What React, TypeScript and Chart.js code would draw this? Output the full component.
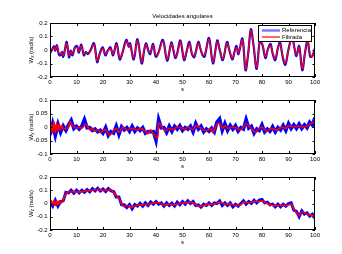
import React, { useEffect, useRef } from "react";
import { Chart, registerables } from "chart.js";

Chart.register(...registerables);

const TITLE = "Velocidades angulares";
const LABEL_REF = "Referencia";
const LABEL_FILT = "Filtrada";
const X_TICKS = [0, 10, 20, 30, 40, 50, 60, 70, 80, 90, 100];

// ---- Plot 1 (W_x) ----
const t1 = [0,0.8,1.5,2.0,2.6,3.3,3.9,4.5,5.0,5.6,
  6.3,7.2,7.8,8.5,9.3,10.2,10.9,11.8,12.8,13.5,
  14.3,15.2,16.6,17.8,18.8,19.9,20.9,21.8,22.8,23.8,
  25.1,26.3,27.4,28.8,29.7,30.2,31.6,33.0,34.6,35.6,
  36.3,37.1,37.8,38.9,39.9,40.8,42.6,44.2,45.8,46.5,
  47.3,48.0,49.2,50.6,51.5,52.6,53.5,54.4,55.0,56.0,
  56.7,57.5,58.3,60.0,61.5,63.1,64.0,65.2,66.8,67.6,
  68.8,69.6,70.4,71.1,72.6,73.8,74.8,75.8,76.8,78.0,
  79.2,80.2,81.3,82.2,83.2,84.0,85.0,86.0,86.8,87.8,
  88.8,90.0,91.3,92.3,93.0,94.0,95.2,96.2,97.2,98.2,
  99.0,100];
const filt1 = [-0.02,0.0,0.02,0.0,0.03,-0.02,-0.03,-0.02,-0.04,0.0,
  0.05,-0.04,-0.01,-0.03,0.01,0.02,-0.01,0.03,-0.03,-0.02,
  -0.02,-0.01,0.04,-0.08,-0.03,0.01,-0.03,-0.01,0.01,-0.03,
  0.04,-0.06,-0.02,0.065,0.03,0.04,-0.06,0.07,-0.09,0.01,
  0.04,-0.01,-0.02,0.035,-0.04,-0.03,0.065,-0.07,0.045,0.01,
  -0.05,-0.03,0.06,-0.065,-0.02,0.05,-0.02,-0.045,-0.02,0.05,
  0.02,-0.03,-0.04,0.08,-0.09,0.06,0.01,-0.065,0.05,0.0,
  -0.06,-0.02,0.02,-0.02,0.075,-0.14,-0.02,0.145,0.03,-0.13,
  0.06,0.04,-0.05,0.0,0.035,-0.02,-0.065,0.02,0.045,-0.04,
  -0.1,0.0,0.085,0.01,-0.035,0.02,-0.14,-0.02,0.06,-0.04,
  -0.05,0.01];
const ref1 = [-0.025,0.005,0.028,-0.005,0.035,-0.03,-0.04,-0.015,-0.05,0.0,
  0.06,-0.055,-0.005,-0.04,0.015,0.03,-0.02,0.04,-0.04,-0.015,
  -0.03,-0.005,0.05,-0.09,-0.025,0.02,-0.04,-0.005,0.02,-0.04,
  0.05,-0.07,-0.015,0.075,0.025,0.05,-0.07,0.08,-0.1,0.005,
  0.05,-0.005,-0.03,0.045,-0.05,-0.025,0.075,-0.08,0.055,0.005,
  -0.06,-0.025,0.07,-0.075,-0.015,0.06,-0.025,-0.055,-0.015,0.06,
  0.015,-0.035,-0.05,0.09,-0.1,0.07,0.005,-0.075,0.06,0.005,
  -0.07,-0.015,0.03,-0.03,0.085,-0.15,-0.025,0.155,0.035,-0.14,
  0.07,0.035,-0.06,0.005,0.045,-0.025,-0.075,0.015,0.055,-0.05,
  -0.11,0.005,0.095,0.01,-0.045,0.03,-0.15,-0.025,0.07,-0.05,
  -0.045,0.015];

// ---- Plot 2 (W_y) ----
const tRef = Array.from({ length: 101 }, (_, i) => i);
const ref2 = [-0.03,0.012,-0.032,0.01,-0.02,0.004,-0.013,0.008,0.025,-0.006,
  0.003,-0.008,0.003,0.028,-0.003,-0.002,-0.013,-0.007,-0.018,-0.012,
  -0.023,-0.002,-0.031,-0.017,-0.023,0.003,-0.028,0.001,-0.011,-0.002,
  -0.016,0.003,-0.016,-0.004,-0.013,-0.002,-0.023,-0.017,-0.018,-0.017,
  -0.05,0.028,-0.003,-0.002,-0.02,0.003,-0.016,0.003,-0.008,0.005,
  -0.013,-0.002,-0.008,0.003,-0.018,0.013,-0.008,0.003,-0.018,-0.007,
  -0.016,-0.004,-0.018,0.018,0.03,-0.013,0.013,-0.013,0.006,-0.008,
  0.005,-0.015,-0.002,-0.008,0.028,-0.004,0.003,-0.023,-0.007,-0.013,
  0.008,-0.018,-0.007,-0.016,0.001,-0.018,-0.002,-0.011,0.006,-0.013,
  0.013,-0.006,0.008,-0.006,0.011,-0.006,0.008,-0.003,0.018,0.007,
  0.035];
const t2 = [0,0.5,1,1.5,2,2.5,3,3.5,4,4.5,5,6,7,7.5,8.5,10,11,12,13.5,15,
  16,17,18,19,20,21,22.5,24,25,26,27.5,29,31,33,34,36,37,38,39,40.5,
  41,42,43.5,45,46.5,48,50,51,52,54,55,57,59,60.5,61.5,63,64,65,66,67,
  69,70.5,72,73,74,75.5,77.5,79,80,81,82,83.5,85,86,87.5,89,90,92,94,96,
  98,100];
const filt2 = [-0.02,0.01,-0.02,0.02,-0.02,0.015,-0.015,0.01,-0.01,0.005,-0.005,-0.005,0.0,0.02,0.005,-0.005,0.0,-0.005,0.01,-0.01,
  -0.005,-0.015,-0.01,-0.02,-0.015,-0.01,-0.03,-0.015,-0.005,-0.02,0.0,-0.01,-0.005,-0.012,-0.005,-0.015,-0.025,-0.01,-0.025,-0.04,
  0.015,0.005,-0.015,-0.005,-0.01,0.0,-0.005,-0.01,0.0,-0.01,0.005,-0.005,-0.015,-0.005,-0.02,0.01,0.015,-0.005,0.005,-0.005,
  0.0,-0.005,-0.01,0.0,0.012,0.0,-0.02,-0.005,0.0,-0.01,-0.015,-0.005,-0.01,-0.01,0.0,-0.005,0.005,0.0,0.003,0.0,
  0.01,0.022];

// ---- Plot 3 (W_z) ----
const ref3 = [0.01,-0.02,0.025,-0.02,0.015,0.02,0.085,0.08,0.1,0.078,
  0.1,0.08,0.1,0.085,0.105,0.088,0.112,0.095,0.115,0.095,
  0.11,0.09,0.112,0.095,0.09,0.05,0.05,-0.01,-0.01,-0.03,
  -0.008,-0.04,-0.008,-0.02,0.002,-0.02,0.005,-0.015,0.012,-0.005,
  0.015,-0.005,0.005,-0.02,0.005,-0.015,0.003,-0.02,0.01,-0.01,
  0.015,-0.005,0.02,0.0,0.015,-0.015,-0.01,-0.028,-0.005,-0.015,
  0.005,-0.015,0.005,0.0,0.02,-0.015,0.005,-0.015,0.005,-0.025,
  -0.005,-0.02,0.0,0.02,-0.005,0.015,0.0,0.025,0.005,0.025,
  0.03,0.005,0.01,-0.01,-0.005,-0.025,-0.005,-0.025,-0.005,-0.02,
  0.0,0.005,-0.05,-0.06,-0.1,-0.055,-0.08,-0.07,-0.095,-0.08,
  -0.11];
const t3 = [0,0.5,1,1.5,2,2.5,3,3.5,4,5,6,7,8,9,10,12,14,16,18,20,
  22,23,24,25,26,27,28,29,30,31,33,35,37,39,41,43,45,47,49,51,
  53,54,56,58,60,62,64,66,68,70,72,73,75,77,79,80,82,84,86,88,
  90,91,92,93,94,95,96,97,98,99,100];
const filt3 = [0.0,0.02,-0.01,0.02,-0.015,0.02,-0.01,0.02,0.0,0.03,0.07,0.09,0.085,0.09,0.085,0.09,0.095,0.1,0.105,0.1,
  0.1,0.105,0.08,0.06,0.04,0.0,-0.025,-0.015,-0.02,-0.03,-0.01,-0.01,-0.005,0.005,0.005,-0.01,-0.005,-0.01,0.0,0.005,
  0.01,0.005,-0.02,-0.015,-0.005,-0.005,0.01,-0.005,-0.005,-0.015,-0.01,0.01,0.005,0.015,0.015,0.02,0.0,-0.015,-0.015,-0.015,
  -0.01,-0.005,-0.04,-0.07,-0.09,-0.065,-0.07,-0.08,-0.085,-0.09,-0.1];

const FONT = "'Liberation Sans', Arial, Helvetica, sans-serif";

const framePlugin = {
  id: "frame",
  afterDraw(chart: any, _args: any, opts: any) {
    const { ctx, chartArea: a, scales } = chart;
    ctx.save();
    ctx.strokeStyle = "#000";
    ctx.lineWidth = 1;
    ctx.strokeRect(a.left + 0.5, a.top + 0.5, a.right - a.left - 1, a.bottom - a.top - 1);
    ctx.beginPath();
    const xs = scales.x;
    const ys = scales.y;
    xs.ticks.forEach((t: any) => {
      const px = Math.round(xs.getPixelForValue(t.value)) + 0.5;
      ctx.moveTo(px, a.bottom);
      ctx.lineTo(px, a.bottom - 3);
      ctx.moveTo(px, a.top);
      ctx.lineTo(px, a.top + 3);
    });
    ys.ticks.forEach((t: any) => {
      const py = Math.round(ys.getPixelForValue(t.value)) + 0.5;
      ctx.moveTo(a.left, py);
      ctx.lineTo(a.left + 2.5, py);
      ctx.moveTo(a.right, py);
      ctx.lineTo(a.right - 2.5, py);
    });
    ctx.stroke();

    // y-axis title with subscript
    const main = "W";
    const sub = opts.sub || "";
    const rest = " (rad/s)";
    const cx = opts.titleX || 31;
    const cy = (a.top + a.bottom) / 2;
    ctx.translate(cx, cy);
    ctx.rotate(-Math.PI / 2);
    ctx.fillStyle = "#000";
    ctx.textBaseline = "middle";
    ctx.textAlign = "left";
    const f1 = `6px ${FONT}`;
    const f2 = `4.5px ${FONT}`;
    ctx.font = f1;
    const w1 = ctx.measureText(main).width;
    const w3 = ctx.measureText(rest).width;
    ctx.font = f2;
    const w2 = ctx.measureText(sub).width;
    let x0 = -(w1 + w2 + w3) / 2;
    ctx.font = f1;
    ctx.fillText(main, x0, 0);
    x0 += w1;
    ctx.font = f2;
    ctx.fillText(sub, x0, 2);
    x0 += w2;
    ctx.font = f1;
    ctx.fillText(rest, x0, 0);
    ctx.setTransform(1, 0, 0, 1, 0, 0);

    if (opts.legend) {
      const bx = 258.5, by = 25.5, bw = 53, bh = 16;
      ctx.fillStyle = "#fff";
      ctx.fillRect(bx, by, bw, bh);
      ctx.strokeStyle = "#000";
      ctx.lineWidth = 1;
      ctx.strokeRect(bx, by, bw, bh);
      const rows = [30.5, 37];
      const colors = opts.legendColors || [];
      const widths = [2.5, 1.2];
      chart.data.datasets.forEach((ds: any, i: number) => {
        const y = rows[i];
        ctx.strokeStyle = colors[i] || ds.borderColor;
        ctx.lineWidth = widths[i];
        ctx.beginPath();
        ctx.moveTo(262, y);
        ctx.lineTo(280, y);
        ctx.stroke();
        ctx.fillStyle = "#000";
        ctx.font = `6px ${FONT}`;
        ctx.textBaseline = "middle";
        ctx.textAlign = "left";
        ctx.fillText(ds.label, 282, y);
      });
    }
    ctx.restore();
  },
};

function pts(t: number[], v: number[]) {
  return t.map((x, i) => ({ x, y: v[i] }));
}

function makeConfig(p: any) {
  const fmt = (v: any) => String(Math.round(Number(v) * 1000) / 1000);
  return {
    type: "line",
    data: {
      datasets: [
        {
          label: LABEL_REF,
          data: pts(p.tRef, p.ref),
          borderColor: "#0000ff",
          borderWidth: p.refWidth,
          pointRadius: 0,
          tension: p.refTension,
          fill: false,
          order: 2,
        },
        {
          label: LABEL_FILT,
          data: pts(p.tFilt, p.filt),
          borderColor: "#ff0000",
          borderWidth: p.filtWidth,
          pointRadius: 0,
          tension: p.filtTension,
          fill: false,
          order: 1,
        },
      ],
    },
    options: {
      responsive: false,
      animation: false,
      events: [],
      layout: { padding: { top: p.padTop, bottom: p.padBottom, left: 0, right: 27 } },
      plugins: {
        legend: { display: false },
        tooltip: { enabled: false },
        title: p.title
          ? {
              display: true,
              text: p.title,
              fullSize: false,
              color: "#000",
              font: { family: FONT, size: 6, weight: "normal", lineHeight: 1.2 },
              padding: { top: 2.4, bottom: 3.4 },
            }
          : { display: false },
        frame: { sub: p.sub, legend: !!p.legend, legendColors: ["#7b7bff", "#ff0000"] },
      },
      scales: {
        x: {
          type: "linear",
          min: 0,
          max: 100,
          afterBuildTicks: (s: any) => {
            s.ticks = X_TICKS.map((v) => ({ value: v }));
          },
          ticks: {
            color: "#000",
            font: { family: FONT, size: 6 },
            padding: 2,
            maxRotation: 0,
            autoSkip: false,
            callback: fmt,
          },
          grid: { display: false, drawTicks: false },
          border: { display: false },
          title: {
            display: true,
            text: "s",
            color: "#000",
            font: { family: FONT, size: 6 },
            padding: { top: 0, bottom: 2 },
          },
          afterFit: (s: any) => {
            s.height = 18;
          },
        },
        y: {
          type: "linear",
          min: p.yMin,
          max: p.yMax,
          afterBuildTicks: (s: any) => {
            s.ticks = p.yTicks.map((v: number) => ({ value: v }));
          },
          ticks: {
            color: "#000",
            font: { family: FONT, size: 6 },
            padding: 2.5,
            autoSkip: false,
            callback: fmt,
          },
          grid: { display: false, drawTicks: false },
          border: { display: false },
          afterFit: (s: any) => {
            s.width = 50;
          },
        },
      },
    },
    plugins: [framePlugin],
  };
}

const PLOTS = [
  {
    tRef: t1, ref: ref1, tFilt: t1, filt: filt1,
    refWidth: 2.2, filtWidth: 1.3, refTension: 0.35, filtTension: 0.35,
    yMin: -0.2, yMax: 0.2, yTicks: [-0.2, -0.1, 0, 0.1, 0.2],
    padTop: 10, padBottom: 159, title: TITLE, sub: "x", legend: true,
  },
  {
    tRef: tRef, ref: ref2, tFilt: t2, filt: filt2,
    refWidth: 3.5, filtWidth: 1.6, refTension: 0, filtTension: 0.3,
    yMin: -0.1, yMax: 0.1, yTicks: [-0.1, -0.05, 0, 0.05, 0.1],
    padTop: 100, padBottom: 82, title: null, sub: "y", legend: false,
  },
  {
    tRef: tRef, ref: ref3, tFilt: t3, filt: filt3,
    refWidth: 3, filtWidth: 1.7, refTension: 0, filtTension: 0.3,
    yMin: -0.2, yMax: 0.2, yTicks: [-0.2, -0.1, 0, 0.1, 0.2],
    padTop: 177, padBottom: 6, title: null, sub: "z", legend: false,
  },
];

function Panel({ p }: { p: any }) {
  const ref = useRef<HTMLCanvasElement | null>(null);
  useEffect(() => {
    if (!ref.current) return;
    const chart = new Chart(ref.current, makeConfig(p) as any);
    return () => chart.destroy();
  }, []);
  return (
    <canvas
      ref={ref}
      width={342}
      height={254}
      style={{ position: "absolute", left: 0, top: 0, width: 342, height: 254 }}
    />
  );
}

export default function App() {
  return (
    <div
      style={{
        position: "absolute",
        left: 0,
        top: 0,
        width: 342,
        height: 254,
        background: "#fff",
        overflow: "hidden",
      }}
    >
      {PLOTS.map((p, i) => (
        <Panel key={i} p={p} />
      ))}
    </div>
  );
}
